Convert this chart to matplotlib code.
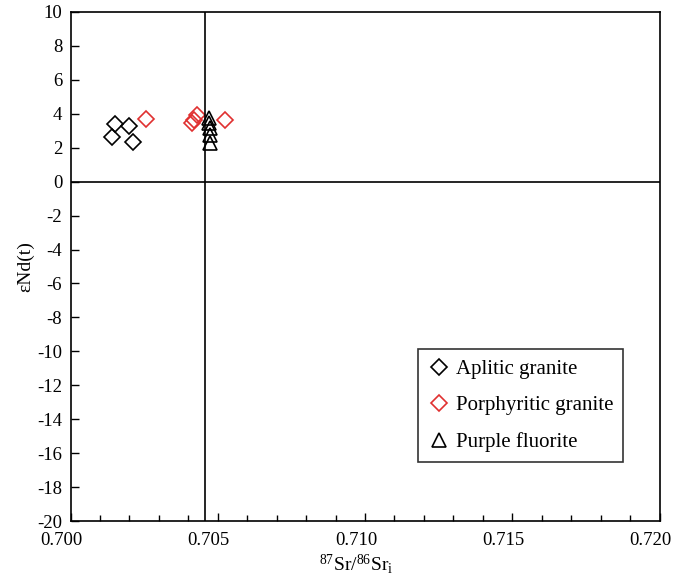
import matplotlib.pyplot as plt
import matplotlib.transforms as mtransforms
import numpy as np

plt.rcParams['font.family'] = ['Liberation Serif', 'DejaVu Serif']
plt.rcParams['mathtext.fontset'] = 'custom'
plt.rcParams['mathtext.rm'] = 'Liberation Serif'
plt.rcParams['mathtext.it'] = 'Liberation Serif'
plt.rcParams['axes.unicode_minus'] = False

# --- dados ---
aplitic_sr = [0.70140, 0.70151, 0.70200, 0.70213]
aplitic_nd = [2.65, 3.38, 3.28, 2.36]

porph_sr = [0.70256, 0.70411, 0.70419, 0.70428, 0.70525]
porph_nd = [3.68, 3.44, 3.64, 3.93, 3.64]

fluor_sr = [0.70470, 0.70471, 0.70472, 0.70473, 0.70474]
fluor_nd = [3.75, 3.46, 3.16, 2.75, 2.28]

sr_ref = 0.70456

W, H = 676, 576
fig = plt.figure(figsize=(W / 100, H / 100), dpi=100)
ax = fig.add_axes([70.5 / W, 1 - 521 / H, 589 / W, 509 / H])

ax.plot(aplitic_sr, aplitic_nd, 'D', ms=8.5, mfc='none', mec='black', mew=1.2,
        label='Aplitic granite', linestyle='none')
ax.plot(porph_sr, porph_nd, 'D', ms=8.5, mfc='none', mec='#e03030', mew=1.2,
        label='Porphyritic granite', linestyle='none')
ax.plot(fluor_sr, fluor_nd, '^', ms=10, mfc='none', mec='black', mew=1.2,
        label='Purple fluorite', linestyle='none')

ax.axhline(0, color='black', lw=1.2)
ax.axvline(sr_ref, color='black', lw=1.2)

ax.set_xlim(0.700, 0.720)
ax.set_ylim(-20, 10)
ax.set_xticks(np.arange(0.700, 0.7201, 0.005))
ax.set_xticks(np.arange(0.700, 0.7201, 0.001), minor=True)
ax.set_xticklabels(['0.700', '0.705', '0.710', '0.715', '0.720'])
ax.set_yticks(np.arange(-20, 11, 2))
ax.tick_params(axis='both', which='both', direction='in', labelsize=13.5,
               top=False, right=False, width=1.0)
ax.tick_params(axis='x', which='major', length=5.5, pad=8)
ax.tick_params(axis='x', which='minor', length=4.5)
ax.tick_params(axis='y', which='major', length=5.8, pad=6)
for s in ax.spines.values():
    s.set_linewidth(1.2)

# etiquetas do eixo x levemente deslocadas para a esquerda, como no original
shift = mtransforms.ScaledTranslation(-9 / 100, 0, fig.dpi_scale_trans)
for lbl in ax.get_xticklabels():
    lbl.set_transform(lbl.get_transform() + shift)

ax.set_xlabel(r'$^{87}$Sr/$^{86}$Sr$_{\rm i}$', fontsize=14, labelpad=2)
ax.xaxis.label.set_transform(ax.xaxis.label.get_transform() + shift)
ax.set_ylabel('εNd(t)', fontsize=14, labelpad=2)

leg = ax.legend(loc='upper left', bbox_to_anchor=(418 / W, 1 - 349 / H),
                bbox_transform=fig.transFigure, fontsize=15,
                frameon=True, fancybox=False, edgecolor='black', handletextpad=0.3,
                handlelength=1.0, labelspacing=0.8, borderpad=0.5, borderaxespad=0)
leg.get_frame().set_linewidth(1.2)

plt.savefig('out.png', dpi=100)
plt.close()
